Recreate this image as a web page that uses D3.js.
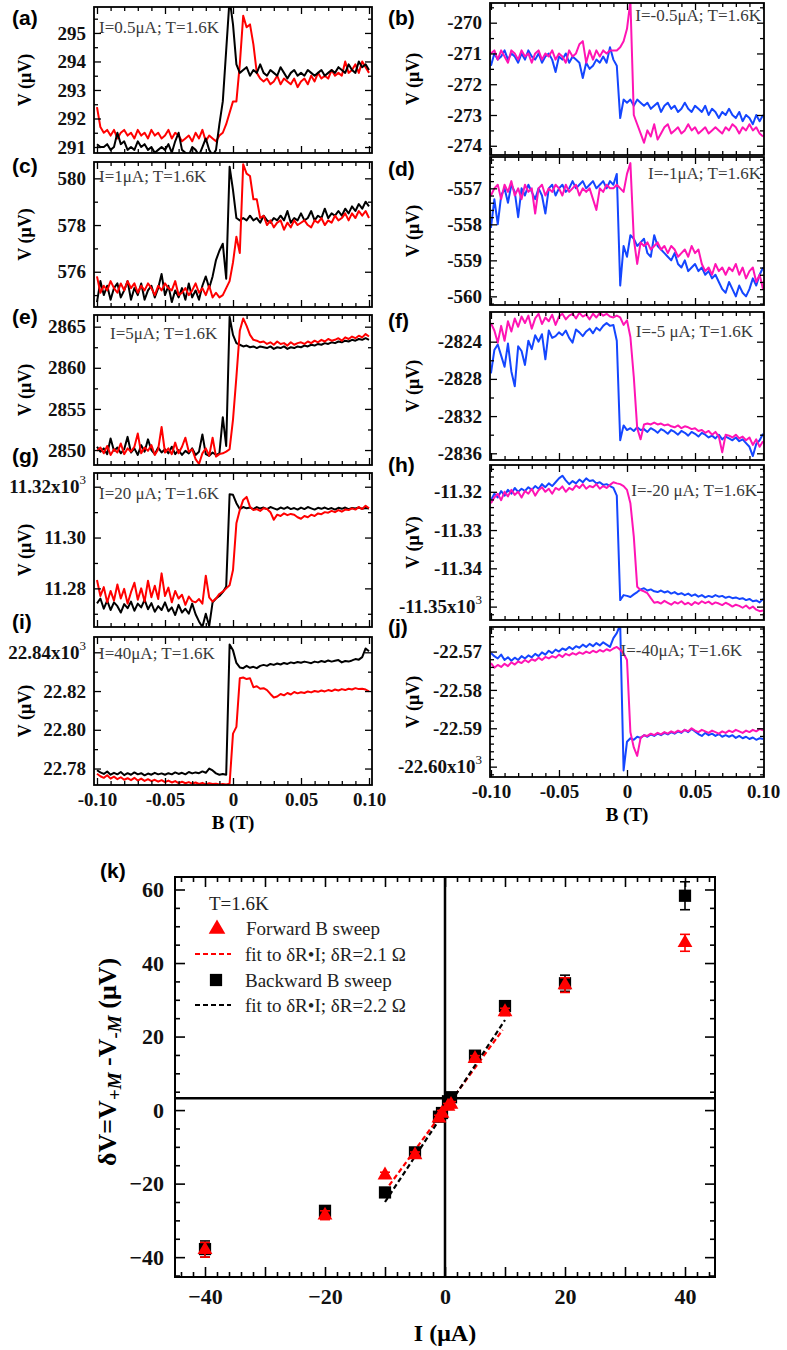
<!DOCTYPE html>
<html><head><meta charset="utf-8">
<script src="https://cdn.jsdelivr.net/npm/d3@7"></script>
<style>body{margin:0;background:#fff}svg{display:block}</style>
</head><body>
<svg id="c" width="787" height="1350"></svg>
<script>
// ---------- DATA ----------
const bField = [-0.1,-0.0975,-0.095,-0.0925,-0.09,-0.0875,-0.085,-0.0825,-0.08,-0.0775,-0.075,-0.0725,-0.07,-0.0675,-0.065,-0.0625,-0.06,-0.0575,-0.055,-0.0525,-0.05,-0.0475,-0.045,-0.0425,-0.04,-0.0375,-0.035,-0.0325,-0.03,-0.0275,-0.025,-0.0225,-0.02,-0.0175,-0.015,-0.0125,-0.01,-0.0075,-0.005,-0.0025,0,0.0025,0.005,0.0075,0.01,0.0125,0.015,0.0175,0.02,0.0225,0.025,0.0275,0.03,0.0325,0.035,0.0375,0.04,0.0425,0.045,0.0475,0.05,0.0525,0.055,0.0575,0.06,0.0625,0.065,0.0675,0.07,0.0725,0.075,0.0775,0.08,0.0825,0.085,0.0875,0.09,0.0925,0.095,0.0975,0.1];

// (a) I=0.5 uA
const aRed = [292.4,291.7,291.5,291.6,291.4,291.6,291.3,291.5,291.6,291.4, 291.5,291.3,291.6,291.4,291.5,291.3,291.6,291.4,291.5,291.3, 291.4,291.6,291.3,291.5,291.4,291.2,291.3,291.4,291.2,291.5, 291.3,291.6,291.2,291.4,291.3,291.2,291.4,291.5,291.8,292.2, 292.6,292.6,293.9,295.6,295.2,295.3,294.6,293.6,293.4,293.3, 293.4,293.2,293.3,293.5,293.2,293.4,293.3,293.2,293.4,293.1, 293.3,293.4,293.2,293.5,293.3,293.6,293.4,293.5,293.4,293.7, 293.5,293.6,293.5,294.0,293.6,293.7,293.9,293.6,294.0,293.8, 293.6];
const aBlack = [291.1,291.0,291.0,291.1,290.9,291.0,291.5,291.1,291.2,290.9, 291.0,290.9,291.2,291.0,291.1,290.9,291.0,290.8,290.9,291.0, 290.9,291.1,290.8,291.2,291.5,290.9,290.8,290.7,291.0,290.9, 290.7,291.0,291.3,290.9,290.7,290.9,291.8,292.6,294.4,296.2, 295.3,293.9,293.6,293.7,293.8,293.5,293.7,293.6,293.9,293.6, 293.5,293.7,293.6,293.5,293.8,293.6,293.4,293.6,293.7,293.5, 293.6,293.5,293.7,293.6,293.5,293.6,293.7,293.5,293.6,293.7, 293.6,293.8,293.7,293.6,293.9,293.7,293.6,294.0,293.8,293.9, 293.7];
// (b) I=-0.5 uA
const bPink = [-271.0,-270.9,-271.2,-270.9,-271.1,-271.3,-270.9,-271.0,-271.2,-270.9, -271.1,-271.0,-271.3,-271.0,-270.9,-271.2,-271.0,-271.1,-270.9,-271.2, -271.0,-271.1,-271.3,-270.9,-271.1,-271.0,-270.7,-270.6,-271.3,-270.9, -271.2,-270.9,-271.1,-270.9,-271.0,-270.9,-270.9,-270.9,-270.8,-270.6, -270.2,-269.3,-273.0,-273.3,-273.6,-273.9,-273.5,-273.7,-273.3,-273.8, -273.6,-273.4,-273.3,-273.6,-273.5,-273.4,-273.6,-273.5,-273.3,-273.5, -273.4,-273.6,-273.5,-273.4,-273.6,-273.5,-273.4,-273.5,-273.6,-273.4, -273.5,-273.3,-273.4,-273.6,-273.4,-273.5,-273.3,-273.5,-273.4,-273.6, -273.7];
const bBlue = [-271.4,-271.0,-271.2,-271.1,-270.9,-271.2,-271.0,-271.1,-271.3,-271.0, -271.2,-270.9,-271.1,-271.2,-271.0,-271.3,-271.1,-271.0,-271.2,-271.6, -271.1,-271.2,-271.0,-271.3,-271.1,-271.2,-271.3,-271.8,-271.3,-271.5, -271.4,-271.2,-271.3,-271.1,-271.3,-270.8,-271.2,-271.4,-273.1,-272.5, -272.6,-272.5,-272.7,-272.5,-272.6,-272.7,-272.6,-272.8,-272.7,-272.6, -272.9,-272.7,-272.6,-272.8,-272.7,-272.9,-272.8,-272.6,-272.8,-272.9, -272.7,-272.8,-272.9,-272.7,-273.0,-272.8,-272.9,-273.1,-272.9,-273.0, -272.8,-273.0,-273.1,-272.9,-273.2,-273.0,-273.1,-273.3,-273.0,-273.2, -273.0];
// (c) I=1 uA
const cRed = [575.8,575.1,575.4,575.2,575.6,575.3,575.1,575.5,575.2,575.6, 575.3,575.5,575.1,575.4,575.2,575.5,575.3,575.0,575.4,575.2, 575.5,575.3,575.2,575.6,575.0,575.1,575.3,575.0,575.2,575.5, 575.1,575.3,575.0,575.4,574.9,575.1,574.9,575.0,575.3,575.6, 576.4,577.5,576.8,580.6,580.2,580.1,579.1,579.1,578.3,578.4, 578.0,578.2,577.9,578.1,578.2,577.8,578.1,577.9,578.2,578.0, 578.1,578.2,578.0,577.9,578.2,578.1,578.3,578.0,578.2,578.1, 578.4,578.2,578.3,578.5,578.2,578.5,578.3,578.6,578.4,578.6, 578.3];
const cBlack = [574.7,575.6,575.0,575.4,574.8,575.3,575.5,574.9,575.2,575.6, 574.8,575.3,575.0,575.5,574.8,575.2,575.4,574.9,575.3,575.9, 575.0,575.4,574.7,575.2,574.9,575.3,574.8,575.5,574.9,575.2, 574.8,575.4,575.8,575.3,575.8,576.5,576.9,577.2,575.7,580.5, 579.5,578.3,578.2,578.3,578.2,578.4,578.2,578.3,578.1,578.4, 578.2,578.1,578.3,578.2,578.4,578.2,578.6,578.1,578.3,578.2, 578.5,578.2,578.3,578.6,578.2,578.4,578.3,578.7,578.3,578.5, 578.4,578.6,578.4,578.7,578.5,578.8,578.6,578.9,578.7,579.0, 578.8];
// (d) I=-1 uA
const dPink = [-557.2,-557.0,-556.9,-557.3,-556.9,-557.1,-556.8,-557.2,-557.0,-557.3, -556.9,-557.1,-557.0,-557.7,-557.0,-556.9,-557.2,-557.0,-557.1,-556.9, -557.0,-557.2,-556.9,-557.1,-557.0,-556.9,-557.2,-557.0,-557.1,-557.0, -557.3,-557.6,-557.0,-557.1,-556.9,-557.0,-557.0,-556.9,-557.0,-557.1, -556.6,-556.3,-558.4,-559.1,-558.5,-558.6,-558.5,-558.7,-558.6,-558.5, -558.7,-558.6,-558.8,-558.6,-558.7,-558.9,-558.8,-558.7,-558.9,-558.6, -558.8,-558.7,-559.1,-559.3,-559.2,-559.4,-559.1,-559.3,-559.2,-559.4, -559.2,-559.3,-559.1,-559.4,-559.2,-559.5,-559.3,-559.2,-559.6,-559.4, -559.8];
const dBlue = [-558.1,-557.3,-558.0,-557.2,-557.0,-557.4,-556.9,-557.1,-557.8,-557.0, -557.2,-556.9,-557.1,-557.3,-557.0,-557.2,-557.7,-557.0,-556.9,-557.2, -557.0,-556.9,-557.1,-557.0,-556.8,-557.0,-556.9,-556.8,-557.0,-556.9, -556.8,-557.0,-556.9,-556.8,-557.0,-556.8,-556.9,-556.6,-559.7,-558.6, -558.9,-558.3,-558.4,-558.6,-558.5,-558.4,-558.8,-558.9,-558.3,-558.6, -558.7,-558.8,-558.9,-559.0,-558.8,-559.1,-559.2,-559.0,-559.3,-559.2, -559.1,-559.3,-559.2,-559.4,-559.3,-559.5,-559.4,-559.6,-559.8,-559.9, -559.6,-559.8,-560.0,-559.7,-559.9,-560.0,-559.8,-559.5,-559.7,-559.4, -559.2];
// (e) I=5 uA
const eRed = [2849.9,2850.3,2849.6,2850.5,2849.4,2850.1,2849.7,2850.8,2849.5,2850.2, 2849.8,2850.4,2852.0,2849.6,2850.3,2849.9,2850.6,2849.4,2850.1,2852.8, 2849.7,2850.2,2849.5,2850.9,2849.6,2850.4,2851.5,2849.8,2850.1,2848.9, 2848.3,2849.6,2850.2,2849.3,2851.5,2849.2,2849.5,2849.6,2849.8,2850.1, 2853.7,2858.9,2864.5,2866.0,2865.1,2864.0,2863.4,2863.3,2863.1,2863.2, 2862.9,2863.1,2862.8,2863.2,2862.9,2863.0,2862.7,2863.1,2862.8,2863.0, 2863.1,2862.9,2863.2,2863.0,2863.3,2863.1,2863.4,2863.2,2863.5,2863.3, 2863.4,2863.6,2863.3,2863.7,2863.5,2863.8,2863.6,2863.9,2863.7,2864.1, 2863.8];
const eBlack = [2850.4,2849.8,2850.2,2849.5,2851.4,2849.9,2850.3,2849.6,2850.1,2851.6, 2849.7,2850.2,2849.4,2850.6,2849.8,2851.3,2850.0,2849.5,2850.3,2849.7, 2850.1,2849.6,2850.4,2849.5,2850.0,2849.4,2849.9,2849.6,2850.2,2849.4, 2849.8,2851.9,2849.5,2849.3,2849.7,2849.4,2849.6,2854.0,2850.5,2866.2, 2864.0,2863.0,2862.8,2862.6,2862.7,2862.5,2862.6,2862.4,2862.6,2862.5, 2862.4,2862.6,2862.3,2862.5,2862.4,2862.6,2862.3,2862.5,2862.4,2862.6, 2862.5,2862.7,2862.6,2862.8,2862.7,2862.9,2862.8,2863.0,2862.9,2863.1, 2863.0,2863.2,2863.1,2863.3,2863.2,2863.4,2863.3,2863.5,2863.4,2863.6, 2863.4];
// (f) I=-5 uA
const fPink = [-2822.0,-2822.8,-2824.1,-2822.3,-2823.9,-2821.8,-2822.9,-2821.5,-2822.4,-2821.3, -2822.0,-2821.2,-2822.6,-2821.5,-2821.0,-2822.1,-2821.4,-2821.8,-2821.1,-2822.2, -2821.3,-2821.0,-2821.6,-2821.2,-2821.0,-2821.5,-2820.9,-2821.3,-2821.1,-2821.6, -2821.0,-2821.4,-2820.9,-2821.2,-2821.0,-2821.3,-2821.4,-2821.2,-2821.4,-2822.2, -2821.7,-2823.5,-2827.8,-2833.3,-2834.5,-2832.9,-2832.8,-2832.9,-2832.7,-2832.9, -2832.8,-2833.0,-2832.9,-2833.1,-2833.2,-2833.0,-2833.3,-2833.1,-2833.2,-2833.4, -2833.3,-2833.6,-2833.5,-2833.8,-2833.6,-2834.0,-2833.7,-2834.2,-2835.9,-2834.0, -2834.1,-2834.3,-2834.0,-2834.4,-2834.2,-2834.6,-2834.3,-2835.1,-2834.5,-2835.3, -2834.7];
const fBlue = [-2827.4,-2824.9,-2824.3,-2825.5,-2826.7,-2824.2,-2827.2,-2828.8,-2824.5,-2825.0, -2826.5,-2823.9,-2824.8,-2823.3,-2824.0,-2823.2,-2825.9,-2822.8,-2823.6,-2823.4, -2823.0,-2823.3,-2822.8,-2823.6,-2824.1,-2822.7,-2823.0,-2823.4,-2822.9,-2822.6, -2823.1,-2822.5,-2822.8,-2822.3,-2822.0,-2822.3,-2822.2,-2823.9,-2834.6,-2833.0, -2833.5,-2833.3,-2833.6,-2833.2,-2833.5,-2833.4,-2833.7,-2833.3,-2833.5,-2833.8, -2833.4,-2833.6,-2833.9,-2833.5,-2833.7,-2834.0,-2833.6,-2833.8,-2834.1,-2833.7, -2833.9,-2834.2,-2833.8,-2834.0,-2834.3,-2834.1,-2834.4,-2834.0,-2834.5,-2834.2, -2834.4,-2834.6,-2834.3,-2834.7,-2834.5,-2834.9,-2835.3,-2836.3,-2835.0,-2834.6, -2833.9];
// (g) I=20 uA  (x10^3 uV)
const gRed = [11.2833,11.2770,11.2805,11.2745,11.2790,11.2752,11.2815,11.2760,11.2798,11.2740, 11.2785,11.2822,11.2755,11.2800,11.2748,11.2830,11.2765,11.2810,11.2758,11.2859, 11.2770,11.2803,11.2745,11.2790,11.2760,11.2775,11.2735,11.2768,11.2750,11.2745, 11.2758,11.2740,11.2850,11.2765,11.2748,11.2760,11.2778,11.2787,11.2800,11.2812, 11.2872,11.3056,11.3108,11.3148,11.3160,11.3121,11.3108,11.3112,11.3105,11.3115, 11.3112,11.3100,11.3070,11.3090,11.3085,11.3095,11.3088,11.3093,11.3090,11.3080, 11.3074,11.3085,11.3080,11.3090,11.3085,11.3095,11.3092,11.3100,11.3098,11.3105, 11.3100,11.3108,11.3102,11.3110,11.3108,11.3115,11.3110,11.3120,11.3112,11.3125, 11.3115];
const gBlack = [11.2741,11.2760,11.2720,11.2752,11.2715,11.2745,11.2730,11.2705,11.2738,11.2722, 11.2748,11.2712,11.2740,11.2725,11.2755,11.2718,11.2742,11.2708,11.2730,11.2715, 11.2745,11.2710,11.2725,11.2695,11.2735,11.2705,11.2720,11.2700,11.2740,11.2698, 11.2670,11.2648,11.2700,11.2652,11.2745,11.2760,11.2770,11.2785,11.2807,11.3170, 11.3168,11.3135,11.3112,11.3120,11.3115,11.3118,11.3112,11.3120,11.3114,11.3118, 11.3112,11.3120,11.3115,11.3110,11.3118,11.3113,11.3120,11.3112,11.3116,11.3110, 11.3118,11.3112,11.3120,11.3115,11.3110,11.3117,11.3113,11.3118,11.3112,11.3116, 11.3110,11.3117,11.3113,11.3118,11.3112,11.3116,11.3114,11.3118,11.3113,11.3116, 11.3114];
// (h) I=-20 uA
const hPink = [-11.3230,-11.3215,-11.3205,-11.3222,-11.3200,-11.3212,-11.3195,-11.3208,-11.3200,-11.3215, -11.3198,-11.3205,-11.3192,-11.3210,-11.3196,-11.3188,-11.3200,-11.3192,-11.3205,-11.3190, -11.3195,-11.3186,-11.3200,-11.3190,-11.3195,-11.3183,-11.3190,-11.3180,-11.3192,-11.3185, -11.3188,-11.3180,-11.3192,-11.3185,-11.3190,-11.3182,-11.3175,-11.3178,-11.3180,-11.3185, -11.3195,-11.3230,-11.3317,-11.3448,-11.3457,-11.3460,-11.3465,-11.3478,-11.3490,-11.3488, -11.3492,-11.3485,-11.3490,-11.3495,-11.3488,-11.3492,-11.3486,-11.3494,-11.3490,-11.3496, -11.3488,-11.3493,-11.3486,-11.3491,-11.3487,-11.3494,-11.3489,-11.3492,-11.3496,-11.3490, -11.3494,-11.3500,-11.3495,-11.3498,-11.3503,-11.3497,-11.3505,-11.3500,-11.3508,-11.3512, -11.3510];
const hBlue = [-11.3222,-11.3205,-11.3215,-11.3198,-11.3210,-11.3195,-11.3205,-11.3190,-11.3200,-11.3192, -11.3198,-11.3188,-11.3195,-11.3185,-11.3192,-11.3180,-11.3188,-11.3178,-11.3185,-11.3175, -11.3165,-11.3158,-11.3170,-11.3180,-11.3172,-11.3178,-11.3168,-11.3175,-11.3165,-11.3172, -11.3170,-11.3178,-11.3175,-11.3182,-11.3180,-11.3185,-11.3190,-11.3210,-11.3483,-11.3470, -11.3472,-11.3475,-11.3468,-11.3462,-11.3455,-11.3452,-11.3458,-11.3455,-11.3460,-11.3462, -11.3458,-11.3463,-11.3460,-11.3466,-11.3462,-11.3468,-11.3465,-11.3470,-11.3466,-11.3472, -11.3468,-11.3474,-11.3470,-11.3476,-11.3472,-11.3475,-11.3470,-11.3474,-11.3472,-11.3477, -11.3474,-11.3478,-11.3476,-11.3480,-11.3478,-11.3483,-11.3480,-11.3486,-11.3484,-11.3489, -11.3480];
// (i) I=40 uA
const iBlack = [22.7791,22.7780,22.7772,22.7785,22.7768,22.7778,22.7770,22.7782,22.7766,22.7776, 22.7768,22.7780,22.7770,22.7776,22.7765,22.7774,22.7768,22.7778,22.7770,22.7775, 22.7768,22.7776,22.7770,22.7780,22.7772,22.7778,22.7770,22.7782,22.7775,22.7780, 22.7776,22.7785,22.7778,22.7800,22.7790,22.7775,22.7768,22.7772,22.7768,22.8440, 22.8410,22.8345,22.8322,22.8318,22.8330,22.8320,22.8325,22.8318,22.8330,22.8335, 22.8330,22.8340,22.8335,22.8342,22.8337,22.8345,22.8340,22.8348,22.8344,22.8350, 22.8346,22.8352,22.8348,22.8344,22.8352,22.8348,22.8355,22.8350,22.8358,22.8352, 22.8356,22.8360,22.8348,22.8355,22.8352,22.8358,22.8365,22.8362,22.8375,22.8420, 22.8405];
const iRed = [22.7773,22.7760,22.7752,22.7765,22.7748,22.7758,22.7745,22.7755,22.7742,22.7750, 22.7740,22.7752,22.7738,22.7748,22.7736,22.7745,22.7735,22.7742,22.7732,22.7740, 22.7730,22.7738,22.7728,22.7735,22.7725,22.7732,22.7724,22.7730,22.7722,22.7728, 22.7720,22.7726,22.7718,22.7724,22.7720,22.7722,22.7718,22.7720,22.7718,22.7722, 22.7980,22.8015,22.8266,22.8270,22.8262,22.8266,22.8220,22.8225,22.8212,22.8215, 22.8205,22.8185,22.8167,22.8172,22.8185,22.8178,22.8190,22.8182,22.8195,22.8188, 22.8194,22.8190,22.8198,22.8193,22.8200,22.8196,22.8203,22.8198,22.8205,22.8200, 22.8208,22.8203,22.8210,22.8205,22.8212,22.8208,22.8215,22.8210,22.8212,22.8208, 22.8198];
// (j) I=-40 uA
const jBlue = [-22.5704,-22.5712,-22.5718,-22.5708,-22.5722,-22.5715,-22.5724,-22.5716,-22.5722,-22.5712, -22.5718,-22.5710,-22.5715,-22.5706,-22.5712,-22.5702,-22.5708,-22.5698,-22.5704,-22.5695, -22.5700,-22.5692,-22.5696,-22.5688,-22.5694,-22.5686,-22.5690,-22.5682,-22.5688,-22.5680, -22.5686,-22.5678,-22.5684,-22.5676,-22.5682,-22.5688,-22.5665,-22.5652,-22.5630,-22.6010, -22.5935,-22.5926,-22.5930,-22.5922,-22.5925,-22.5918,-22.5922,-22.5916,-22.5920,-22.5914, -22.5918,-22.5912,-22.5916,-22.5910,-22.5914,-22.5908,-22.5912,-22.5904,-22.5910,-22.5902, -22.5908,-22.5915,-22.5920,-22.5912,-22.5918,-22.5914,-22.5920,-22.5915,-22.5922,-22.5918, -22.5922,-22.5918,-22.5925,-22.5920,-22.5926,-22.5922,-22.5928,-22.5924,-22.5930,-22.5926, -22.5928];
const jPink = [-22.5730,-22.5742,-22.5735,-22.5740,-22.5732,-22.5738,-22.5728,-22.5734,-22.5726,-22.5730, -22.5722,-22.5728,-22.5720,-22.5724,-22.5716,-22.5722,-22.5714,-22.5718,-22.5712,-22.5716, -22.5708,-22.5714,-22.5706,-22.5710,-22.5704,-22.5708,-22.5702,-22.5706,-22.5700,-22.5704, -22.5698,-22.5702,-22.5696,-22.5700,-22.5694,-22.5698,-22.5692,-22.5688,-22.5695,-22.5705, -22.5722,-22.5910,-22.5950,-22.5972,-22.5925,-22.5918,-22.5920,-22.5914,-22.5918,-22.5912, -22.5916,-22.5910,-22.5914,-22.5908,-22.5912,-22.5906,-22.5910,-22.5904,-22.5908,-22.5900, -22.5906,-22.5910,-22.5904,-22.5908,-22.5912,-22.5906,-22.5910,-22.5914,-22.5908,-22.5912, -22.5906,-22.5910,-22.5904,-22.5908,-22.5912,-22.5906,-22.5910,-22.5904,-22.5908,-22.5902, -22.5905];

// tick values / labels
const bTickValues = [-0.1,-0.05,0,0.05,0.1];
const bTickLabels = ['-0.10','-0.05','0','0.05','0.10'];
const aTicks = [291,292,293,294,295];
const bTicks = [-274,-273,-272,-271,-270];
const cTicks = [576,578,580];
const dTicks = [-560,-559,-558,-557];
const eTicks = [2850,2855,2860,2865];
const fTicks = [-2836,-2832,-2828,-2824];
const gTicks = [11.28,11.30,11.32];
const gTickLabels = ['11.28','11.30','11.32x10^3'];
const hTicks = [-11.35,-11.34,-11.33,-11.32];
const hTickLabels = ['-11.35x10^3','-11.34','-11.33','-11.32'];
const iTicks = [22.78,22.80,22.82,22.84];
const iTickLabels = ['22.78','22.80','22.82','22.84x10^3'];
const jTicks = [-22.60,-22.59,-22.58,-22.57];
const jTickLabels = ['-22.60x10^3','-22.59','-22.58','-22.57'];
const panelNotes = ['I=0.5μA; T=1.6K','I=-0.5μA; T=1.6K','I=1μA; T=1.6K','I=-1μA; T=1.6K','I=5μA; T=1.6K','I=-5 μA; T=1.6K','I=20 μA; T=1.6K','I=-20 μA; T=1.6K','I=40μA; T=1.6K','I=-40μA; T=1.6K'];

// (k) summary
const currents = [-40,-20,-10,-5,-1,-0.5,0.5,1,5,10,20,40];
const forwardDV = [-38.0,-28.6,-17.7,-12.2,-2.2,-0.9,1.0,1.5,14.0,26.7,34.0,45.5];
const forwardErr = [2.0,1.2,0.8,0.8,0.8,0.8,0.8,0.8,0.8,1.0,2.0,2.3];
const backwardDV = [-37.8,-27.4,-22.4,-11.5,-1.8,-0.8,2.4,3.5,14.8,28.3,34.5,58.3];
const backwardErr = [2.2,1.2,0.8,0.8,0.8,0.8,0.8,0.8,0.8,1.0,2.2,3.8];
const fitForwardI = [-9.3, 9.6];
const fitForwardV = [-20.5, 21.8];
const fitBackwardI = [-10, 10];
const fitBackwardV = [-25, 24.5];
const refLineV = 3.2;
const kXTicks = [-40,-20,0,20,40];
const kYTicks = [-40,-20,0,20,40,60];

// ---------- LAYOUT / STYLE ----------
const SERIF = '"Liberation Serif","Times New Roman",Times,serif';
const SANS = '"Liberation Sans",Arial,Helvetica,sans-serif';
const RED = '#ff0000', BLACK = '#000000', PINK = '#ff14b4', BLUE = '#1446ff';
const cols = [
  {x0: 94, x1: 372, xd: [-0.1022, 0.1022], labX: 12, vX: 25},
  {x0: 490, x1: 764, xd: [-0.1007, 0.1007], labX: 388, vX: 413}
];
const panels = [
  {lab:'(a)', col:0, top:7,   bot:153, yd:[290.79,295.91], ticks:aTicks, minor:0.5, s:[[aRed,RED],[aBlack,BLACK]], noteY:27, labY:17},
  {lab:'(b)', col:1, top:3,   bot:155, yd:[-274.30,-269.36], ticks:bTicks, minor:0.5, s:[[bBlue,BLUE],[bPink,PINK]], noteY:15, labY:17},
  {lab:'(c)', col:0, top:162, bot:307, yd:[574.49,580.70], ticks:cTicks, minor:1, s:[[cBlack,BLACK],[cRed,RED]], noteY:176, labY:165},
  {lab:'(d)', col:1, top:157, bot:305, yd:[-560.24,-556.13], ticks:dTicks, minor:0.2, s:[[dBlue,BLUE],[dPink,PINK]], noteY:173, labY:168},
  {lab:'(e)', col:0, top:315, bot:465, yd:[2848.18,2866.42], ticks:eTicks, minor:2.5, s:[[eBlack,BLACK],[eRed,RED]], noteY:333, labY:316, noteX:110},
  {lab:'(f)', col:1, top:312, bot:460, yd:[-2836.72,-2820.81], ticks:fTicks, minor:2, s:[[fBlue,BLUE],[fPink,PINK]], noteY:331, labY:320, noteEnd:753},
  {lab:'(g)', col:0, top:473, bot:627, yd:[11.2648,11.3254], ticks:gTicks, tl:gTickLabels, minor:0.01, s:[[gBlack,BLACK],[gRed,RED]], noteY:493, labY:455},
  {lab:'(h)', col:1, top:465, bot:620, yd:[-11.3535,-11.3130], ticks:hTicks, tl:hTickLabels, minor:0.002, s:[[hBlue,BLUE],[hPink,PINK]], noteY:490, labY:464, noteEnd:757},
  {lab:'(i)', col:0, top:637, bot:785, yd:[22.7715,22.8479], ticks:iTicks, tl:iTickLabels, minor:0.01, s:[[iBlack,BLACK],[iRed,RED]], noteY:653, labY:621, xlab:true},
  {lab:'(j)', col:1, top:627, bot:777, yd:[-22.6027,-22.5636], ticks:jTicks, tl:jTickLabels, minor:0.002, s:[[jBlue,BLUE],[jPink,PINK]], noteY:650, labY:626, xlab:true, noteEnd:742}
];

const svg = d3.select('#c');
svg.append('rect').attr('width',787).attr('height',1350).attr('fill','#fff');

function stepValues(dom, step) {
  const lo = Math.min(dom[0], dom[1]), hi = Math.max(dom[0], dom[1]);
  const out = [];
  for (let k = Math.ceil(lo/step - 1e-6); k*step <= hi + 1e-9; k++) out.push(+(k*step).toFixed(6));
  return out;
}
function fmtLabel(sel, labels, values) {
  sel.each(function(d) {
    const idx = values.indexOf(d);
    const s = labels ? labels[idx] : String(d);
    const t = d3.select(this);
    t.text(null);
    if (s.includes('^')) {
      const [base, ex] = s.split('^');
      t.append('tspan').text(base);
      t.append('tspan').attr('dy', -9).attr('font-size', 13).attr('font-weight', 'normal').text(ex);
    } else t.text(s);
  });
}
function styleAxis(g, fs) {
  g.select('.domain').remove();
  g.selectAll('line').attr('stroke', '#000').attr('stroke-width', 1.3);
  g.selectAll('text').attr('font-family', SERIF).attr('font-weight', 'bold').attr('font-size', fs).attr('fill', '#111');
}

panels.forEach((p, pi) => {
  const c = cols[p.col];
  const x = d3.scaleLinear().domain(c.xd).range([c.x0, c.x1]);
  const y = d3.scaleLinear().domain(p.yd).range([p.bot, p.top]);
  const g = svg.append('g');
  const cid = 'clip' + pi;
  svg.append('clipPath').attr('id', cid).append('rect')
    .attr('x', c.x0).attr('y', p.top).attr('width', c.x1 - c.x0).attr('height', p.bot - p.top);
  const line = d3.line().x((d, i) => x(bField[i])).y(d => y(d));
  const lg = g.append('g').attr('clip-path', `url(#${cid})`);
  p.s.forEach(([vals, col]) => {
    lg.append('path').datum(vals).attr('d', line).attr('fill', 'none')
      .attr('stroke', col).attr('stroke-width', 2).attr('stroke-linejoin', 'round');
  });
  const minorY = stepValues(p.yd, p.minor).filter(v => !p.ticks.some(t => Math.abs(t - v) < 1e-7));
  const minorX = stepValues(c.xd, 0.01).filter(v => !bTickValues.some(t => Math.abs(t - v) < 1e-7));
  const ax = [
    [d3.axisLeft(y).tickValues(p.ticks).tickSize(-7).tickPadding(8), `translate(${c.x0},0)`, true],
    [d3.axisLeft(y).tickValues(minorY).tickSize(-4).tickFormat(''), `translate(${c.x0},0)`],
    [d3.axisRight(y).tickValues(p.ticks).tickSize(-7).tickFormat(''), `translate(${c.x1},0)`],
    [d3.axisRight(y).tickValues(minorY).tickSize(-4).tickFormat(''), `translate(${c.x1},0)`],
    [d3.axisBottom(x).tickValues(bTickValues).tickSize(-7).tickPadding(8).tickFormat(p.xlab ? null : ''), `translate(0,${p.bot})`, false, true],
    [d3.axisBottom(x).tickValues(minorX).tickSize(-4).tickFormat(''), `translate(0,${p.bot})`],
    [d3.axisTop(x).tickValues(bTickValues).tickSize(-7).tickFormat(''), `translate(0,${p.top})`],
    [d3.axisTop(x).tickValues(minorX).tickSize(-4).tickFormat(''), `translate(0,${p.top})`]
  ];
  ax.forEach(([a, tr, isY, isX]) => {
    const ag = g.append('g').attr('transform', tr).call(a);
    styleAxis(ag, 19);
    if (isY) fmtLabel(ag.selectAll('text'), p.tl, p.ticks);
    if (isX && p.xlab) fmtLabel(ag.selectAll('text'), bTickLabels, bTickValues);
  });
  g.append('rect').attr('x', c.x0).attr('y', p.top).attr('width', c.x1 - c.x0).attr('height', p.bot - p.top)
    .attr('fill', 'none').attr('stroke', '#000').attr('stroke-width', 1.8);
  g.append('text').attr('transform', `translate(${c.vX},${(p.top + p.bot) / 2}) rotate(-90)`)
    .attr('text-anchor', 'middle').attr('dominant-baseline', 'central')
    .attr('font-family', SERIF).attr('font-weight', 'bold').attr('font-size', 18).text('V (μV)');
  g.append('text').attr('x', c.labX).attr('y', p.labY).attr('dominant-baseline', 'central')
    .attr('font-family', SANS).attr('font-weight', 'bold').attr('font-size', 21).text(p.lab);
  const left = p.col === 0;
  g.append('text').attr('x', left ? (p.noteX || 99) : (p.noteEnd || 761)).attr('y', p.noteY)
    .attr('text-anchor', left ? 'start' : 'end').attr('dominant-baseline', 'central')
    .attr('font-family', SERIF).attr('font-size', 17).attr('fill', '#3a3a3a').text(panelNotes[pi]);
  if (p.xlab) {
    g.append('text').attr('x', x(0)).attr('y', p.bot + 37).attr('text-anchor', 'middle')
      .attr('dominant-baseline', 'central').attr('font-family', SERIF).attr('font-weight', 'bold')
      .attr('font-size', 19).text('B (T)');
  }
});

// ---------- PANEL (k) ----------
(function() {
  const L = 175, R = 715, T = 877, Bt = 1277;
  const x = d3.scaleLinear().domain([-45, 45]).range([L, R]);
  const y = d3.scaleLinear().domain([-45.4, 63.4]).range([Bt, T]);
  const g = svg.append('g');
  const mX = stepValues([-45, 45], 2).filter(v => v % 10 !== 0);
  const MX = stepValues([-45, 45], 10);
  const mY = stepValues([-45.4, 63.4], 5).filter(v => v % 20 !== 0);
  const ax = [
    [d3.axisBottom(x).tickValues(MX).tickSize(-10).tickPadding(11).tickFormat(d => kXTicks.includes(d) ? d3.format('d')(d) : ''), `translate(0,${Bt})`],
    [d3.axisBottom(x).tickValues(mX).tickSize(-5).tickFormat(''), `translate(0,${Bt})`],
    [d3.axisTop(x).tickValues(MX).tickSize(-10).tickFormat(''), `translate(0,${T})`],
    [d3.axisTop(x).tickValues(mX).tickSize(-5).tickFormat(''), `translate(0,${T})`],
    [d3.axisLeft(y).tickValues(kYTicks).tickSize(-10).tickPadding(11).tickFormat(d3.format('d')), `translate(${L},0)`],
    [d3.axisLeft(y).tickValues(mY).tickSize(-5).tickFormat(''), `translate(${L},0)`],
    [d3.axisRight(y).tickValues(kYTicks).tickSize(-10).tickFormat(''), `translate(${R},0)`],
    [d3.axisRight(y).tickValues(mY).tickSize(-5).tickFormat(''), `translate(${R},0)`]
  ];
  ax.forEach(([a, tr]) => {
    const ag = g.append('g').attr('transform', tr).call(a);
    ag.select('.domain').remove();
    ag.selectAll('line').attr('stroke', '#000').attr('stroke-width', 1.6);
    ag.selectAll('text').attr('font-family', SERIF).attr('font-weight', 'bold').attr('font-size', 22).attr('fill', '#111');
  });
  g.append('rect').attr('x', L).attr('y', T).attr('width', R - L).attr('height', Bt - T)
    .attr('fill', 'none').attr('stroke', '#000').attr('stroke-width', 2);
  g.append('line').attr('x1', L).attr('x2', R).attr('y1', y(refLineV)).attr('y2', y(refLineV))
    .attr('stroke', '#000').attr('stroke-width', 2.5);
  g.append('line').attr('x1', x(0)).attr('x2', x(0)).attr('y1', T).attr('y2', Bt)
    .attr('stroke', '#000').attr('stroke-width', 2.5);
  const fl = (I, V) => d3.line().x((d, i) => x(I[i])).y(d => y(d))(V);
  g.append('path').attr('d', fl(fitForwardI, fitForwardV)).attr('stroke', RED).attr('stroke-width', 2.2)
    .attr('stroke-dasharray', '5,3').attr('fill', 'none');
  g.append('path').attr('d', fl(fitBackwardI, fitBackwardV)).attr('stroke', BLACK).attr('stroke-width', 2.2)
    .attr('stroke-dasharray', '5,3').attr('fill', 'none');
  function series(vals, errs, col, sym, size) {
    currents.forEach((I, i) => {
      const cx = x(I), y1 = y(vals[i] - errs[i]), y2 = y(vals[i] + errs[i]);
      g.append('line').attr('x1', cx).attr('x2', cx).attr('y1', y1).attr('y2', y2).attr('stroke', col).attr('stroke-width', 1.6);
      [y1, y2].forEach(yy => g.append('line').attr('x1', cx - 5).attr('x2', cx + 5).attr('y1', yy).attr('y2', yy).attr('stroke', col).attr('stroke-width', 1.6));
    });
    g.selectAll(null).data(vals).enter().append('path')
      .attr('d', d3.symbol().type(sym).size(size))
      .attr('transform', (d, i) => `translate(${x(currents[i])},${y(d)})`)
      .attr('fill', col);
  }
  series(backwardDV, backwardErr, BLACK, d3.symbolSquare, 150);
  series(forwardDV, forwardErr, RED, d3.symbolTriangle, 95);
  const lt = (xx, yy, s) => g.append('text').attr('x', xx).attr('y', yy).attr('dominant-baseline', 'central')
    .attr('font-family', SERIF).attr('font-size', 19).attr('fill', '#222').text(s);
  lt(209, 903, 'T=1.6K');
  g.append('path').attr('d', d3.symbol().type(d3.symbolTriangle).size(120)).attr('transform', 'translate(217,929)').attr('fill', RED);
  lt(246, 928, 'Forward B sweep');
  g.append('line').attr('x1', 195).attr('x2', 231).attr('y1', 954).attr('y2', 954).attr('stroke', RED).attr('stroke-width', 2.2).attr('stroke-dasharray', '5,3');
  lt(245, 954, 'fit to δR•I; δR=2.1 Ω');
  g.append('path').attr('d', d3.symbol().type(d3.symbolSquare).size(150)).attr('transform', 'translate(216,980)').attr('fill', BLACK);
  lt(245, 980, 'Backward B sweep');
  g.append('line').attr('x1', 195).attr('x2', 231).attr('y1', 1005).attr('y2', 1005).attr('stroke', BLACK).attr('stroke-width', 2.2).attr('stroke-dasharray', '5,3');
  lt(245, 1005, 'fit to δR•I; δR=2.2 Ω');
  g.append('text').attr('x', x(0)).attr('y', 1333).attr('text-anchor', 'middle').attr('dominant-baseline', 'central')
    .attr('font-family', SERIF).attr('font-weight', 'bold').attr('font-size', 24).text('I (μA)');
  const yt = g.append('text').attr('transform', 'translate(107,1062) rotate(-90)').attr('text-anchor', 'middle')
    .attr('dominant-baseline', 'central').attr('font-family', SERIF).attr('font-weight', 'bold').attr('font-size', 26);
  yt.append('tspan').text('δV=V');
  yt.append('tspan').attr('dy', 7).attr('font-size', 19).attr('font-style', 'italic').text('+M');
  yt.append('tspan').attr('dy', -7).text(' -V');
  yt.append('tspan').attr('dy', 7).attr('font-size', 19).attr('font-style', 'italic').text('-M');
  yt.append('tspan').attr('dy', -7).text(' (μV)');
  g.append('text').attr('x', 100).attr('y', 870).attr('dominant-baseline', 'central')
    .attr('font-family', SANS).attr('font-weight', 'bold').attr('font-size', 21).text('(k)');
})();
</script>
</body></html>
